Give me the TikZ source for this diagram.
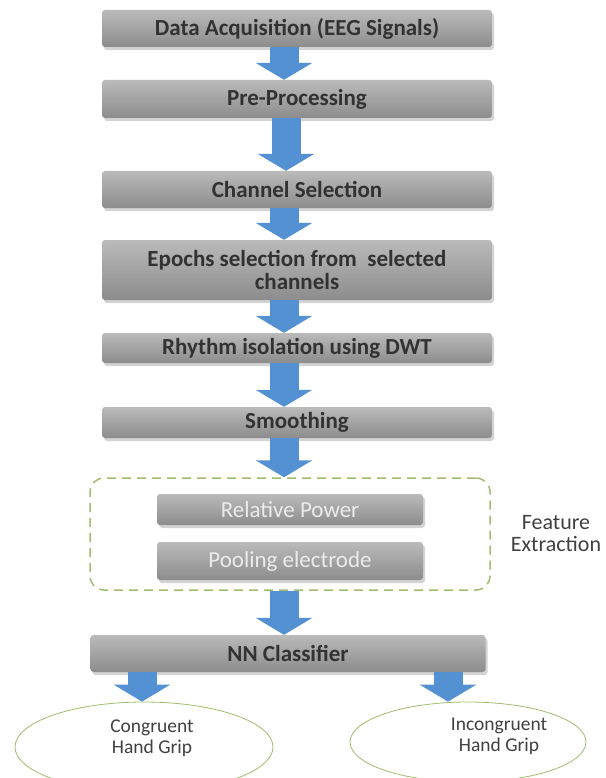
\documentclass[tikz,border=0pt]{standalone}
\usepackage{fontspec}
\setmainfont{Carlito}
\usetikzlibrary{
  arrows.meta,
  shapes,
  shadows
}
\definecolor{flowblue}{RGB}{84,145,210}
\definecolor{framegreen}{RGB}{160,188,110}
\definecolor{boxtext}{RGB}{50,50,50}

\begin{document}
\begin{tikzpicture}[x=1pt, y=-1pt,
  stage/.style = {shape=rectangle, rounded corners=3pt, align=center,
    top color=black!27, bottom color=black!45, text=boxtext, inner ysep=1pt,
    font=\fontsize{23}{23}\selectfont\bfseries, minimum width=390pt,
    drop shadow={opacity=0.35, shadow xshift=2pt, shadow yshift=-3pt}},
  inner/.style = {stage, minimum width=266pt, text=black!8,
    font=\fontsize{23}{23}\selectfont},
  flow/.style = {draw=flowblue, line width=29pt,
    -{Triangle[length=17pt, width=56pt]}},
  outcome/.style = {shape=ellipse, draw=framegreen, fill=white, line width=0.8pt},
  plain/.style = {align=center, text=black!75, font=\fontsize{19.5}{21}\selectfont}]
  \useasboundingbox (0,0) rectangle (605,778);
  \clip (0,0) rectangle (605,778);
  % processing chain
  \node[stage, minimum height=37pt] (acq) at (297,28.5) {Data Acquisition (EEG Signals)};
  \node[stage, minimum height=38pt] (pre) at (297,99) {Pre-Processing};
  \node[stage, minimum height=37pt] (chan) at (297,189.5) {Channel Selection};
  \node[stage, minimum height=60pt] (epoch) at (297,270) {Epochs selection from \ selected\\channels};
  \node[stage, minimum height=30pt] (dwt) at (297,348) {Rhythm isolation using DWT};
  \node[stage, minimum height=31pt] (smooth) at (297,422.5) {Smoothing};
  % feature extraction group
  \node[draw=framegreen, dash pattern=on 9pt off 6pt, line width=1.5pt,
    rounded corners=14pt, minimum width=400pt, minimum height=112pt] (feat) at (290,534) {};
  \node[inner, minimum height=31pt] (relpow) at (290,509.5) {Relative Power};
  \node[inner, minimum height=38pt] (pool) at (290,561) {Pooling electrode};
  \node[plain, font=\fontsize{22}{22}\selectfont] (featlbl) at (556,534) {Feature\\Extraction};
  \node[stage, minimum width=395pt, minimum height=37pt] (nn) at (288,653.5) {NN Classifier};
  % outcomes
  \node[outcome, minimum width=258pt, minimum height=90pt] (cong) at (144,747) {};
  \node[outcome, minimum width=236pt, minimum height=80pt] (incong) at (468,742) {};
  \node[plain] (congtxt) at (152,738) {Congruent\\Hand Grip};
  \node[plain] (incongtxt) at (499,736) {Incongruent\\Hand Grip};
  \coordinate (congin) at ([xshift=-2pt]cong.north);
  \coordinate (incongin) at ([xshift=-20pt]incong.north);
  % arrows
  \draw[flow] ([xshift=-13pt]acq.south) -- ([xshift=-13pt]pre.north);
  \draw[flow] ([xshift=-11pt]pre.south) -- ([xshift=-11pt]chan.north);
  \draw[flow] ([xshift=-13pt]chan.south) -- ([xshift=-13pt]epoch.north);
  \draw[flow] ([xshift=-13pt]epoch.south) -- ([xshift=-13pt]dwt.north);
  \draw[flow] ([xshift=-13pt]dwt.south) -- ([xshift=-13pt]smooth.north);
  \draw[flow] ([xshift=-13pt]smooth.south) -- ([xshift=-6pt]feat.north);
  \draw[flow] ([xshift=-6pt]feat.south) -- ([xshift=-4pt]nn.north);
  \draw[flow] (congin |- nn.south) -- (congin);
  \draw[flow] (incongin |- nn.south) -- (incongin);
\end{tikzpicture}
\end{document}
